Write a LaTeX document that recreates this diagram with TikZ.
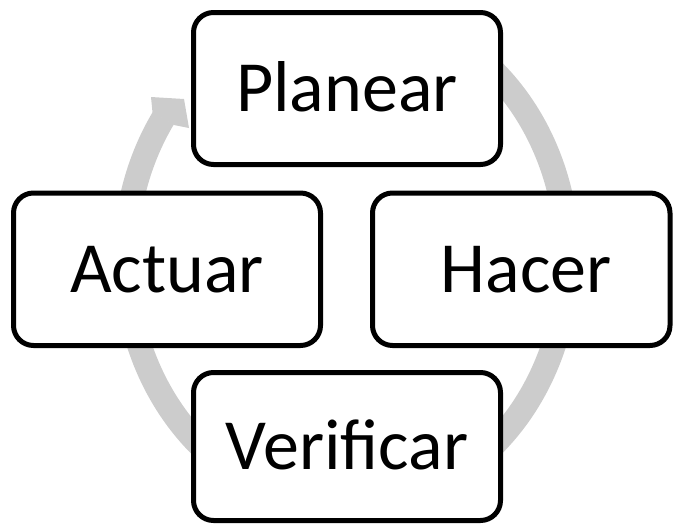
\documentclass[tikz,border=0pt]{standalone}
\usepackage{fontspec}
\setmainfont{Carlito}
\definecolor{ringgray}{RGB}{204,204,204}
\begin{document}
\begin{tikzpicture}[x=1pt,y=1pt,
  stepbox/.style={draw=black, line width=5pt, rounded corners=20pt, fill=white,
    inner sep=0pt, text height=46pt, text depth=0pt,
    font=\fontsize{72}{72}\selectfont},
  ringstroke/.style={draw=ringgray, line width=24.5pt},
  ringhead/.style={fill=ringgray, draw=none}]
\useasboundingbox (0,0) rectangle (673,-525);
% circular arrow behind the boxes
\coordinate (cc) at (346.5,-258);
\draw[ringstroke] ([shift={(-300:221pt and 250pt)}]cc)
  arc[start angle=-300, end angle=-574, x radius=221pt, y radius=250pt];
\coordinate (w1) at (151,-97);
\coordinate (tip) at (184,-99);
\coordinate (w2) at (189,-128);
\coordinate (si) at (174,-125);
\coordinate (so) at (152.5,-112.5);
\fill[ringhead] (w1) -- (tip) -- (w2) -- (si) -- (so) -- cycle;
% boxes
\node[stepbox, minimum width=307pt, minimum height=152pt] (plan) at (347,-88.5) {Planear};
\node[stepbox, minimum width=297.5pt, minimum height=152.5pt] (hacer) at (521.25,-269.25) {\hspace*{10pt}Hacer};
\node[stepbox, minimum width=307pt, minimum height=148pt] (verif) at (347,-446.5) {Verificar};
\node[stepbox, minimum width=307pt, minimum height=152.5pt] (act) at (167,-269.25) {Actuar};
\end{tikzpicture}
\end{document}
